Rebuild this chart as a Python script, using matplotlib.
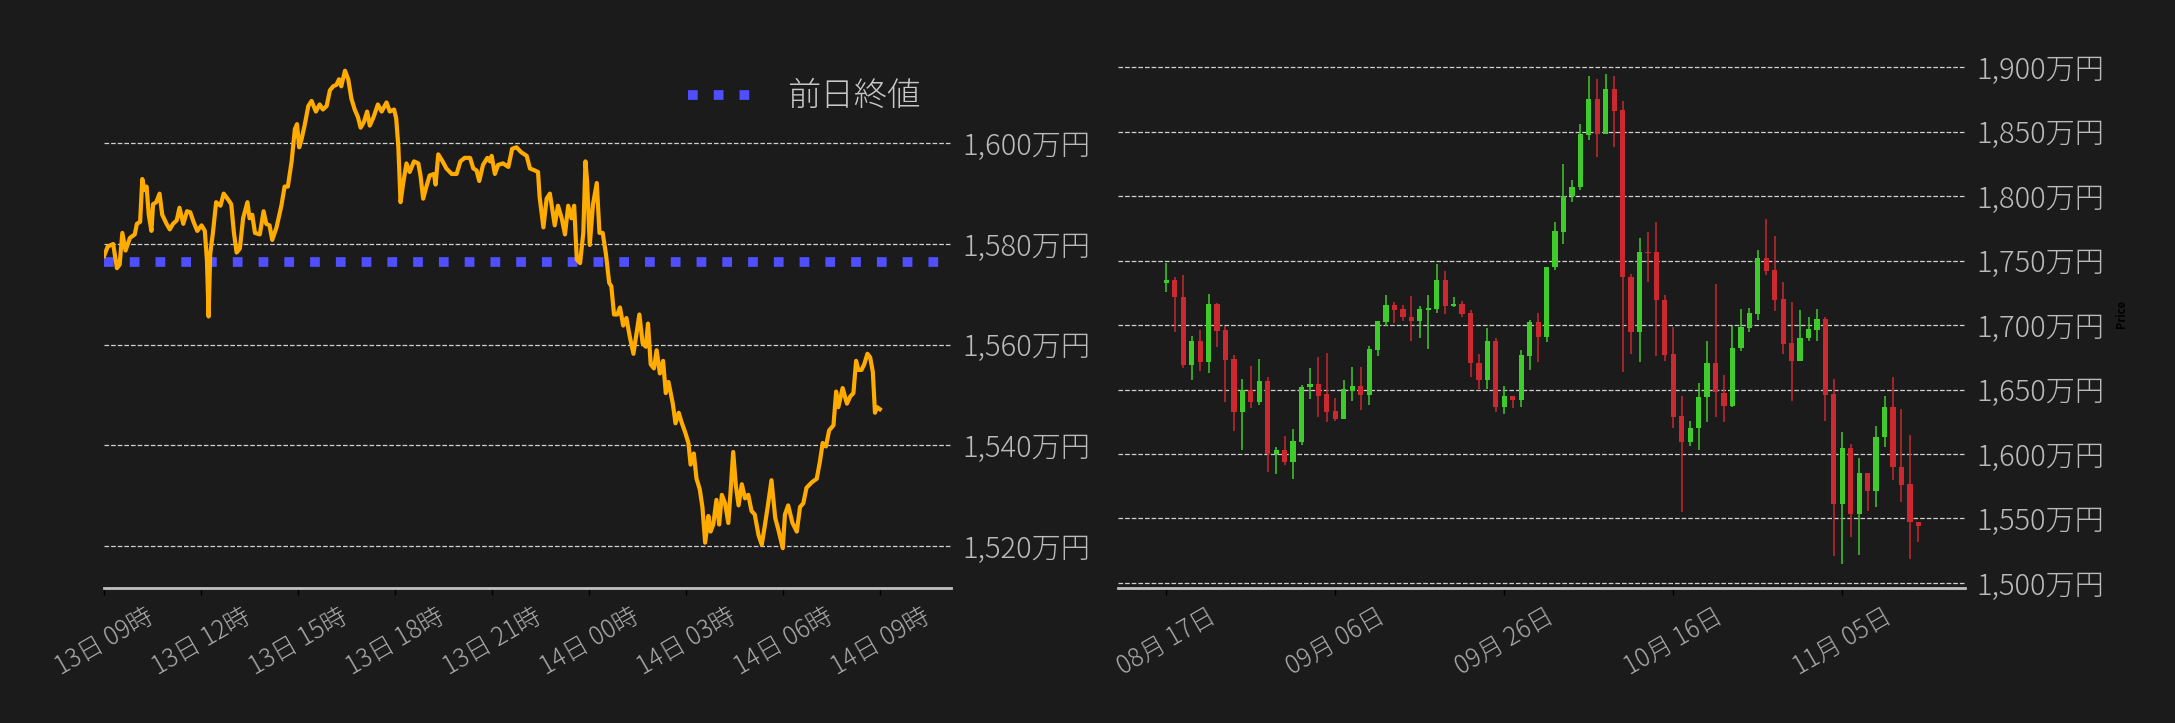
import matplotlib
matplotlib.use("Agg")
import matplotlib.pyplot as plt
import matplotlib.dates as mdates
import matplotlib.ticker as mticker
import pandas as pd

plt.rcParams["font.family"] = ["Noto Sans CJK JP", "DejaVu Sans"]
plt.rcParams["font.weight"] = "light"

BG = "#1b1b1b"
LINE = "#ffab00"
PREV = "#4f4fff"
UP = "#3dcc2a"
DOWN = "#cc2830"

# --- intraday (minutes after 13日 09:00), price in 万円
intraday_start = pd.Timestamp("2025-11-13 09:00")
intraday_minutes = [
    0, 7, 17, 24, 29, 34, 40, 48, 57, 61, 67, 71, 75, 79, 83, 88, 91, 97, 103, 108,
    116, 122, 128, 135, 140, 147, 154, 160, 166, 173, 181, 187, 191, 194, 197, 202, 208, 216, 222, 229,
    236, 241, 246, 252, 258, 266, 270, 275, 280, 289, 296, 301, 307, 312, 320, 329, 335, 341, 348, 354,
    358, 362, 366, 372, 379, 385, 393, 400, 406, 413, 419, 425, 431, 436, 440, 447, 453, 459, 465, 471,
    476, 482, 488, 493, 500, 508, 515, 524, 530, 538, 542, 546, 550, 555, 561, 567, 575, 583, 587, 592,
    598, 604, 612, 615, 620, 628, 635, 645, 654, 661, 669, 679, 685, 691, 696, 703, 711, 716, 719, 725,
    731, 740, 750, 757, 765, 774, 784, 790, 799, 805, 808, 815, 821, 827, 832, 836, 842, 849, 855, 861,
    867, 872, 877, 883, 889, 893, 896, 901, 907, 914, 919, 925, 931, 937, 941, 946, 952, 957, 963, 969,
    975, 982, 988, 993, 999, 1005, 1009, 1014, 1020, 1025, 1031, 1037, 1042, 1047, 1055, 1060, 1066, 1071, 1078, 1084,
    1088, 1094, 1099, 1105, 1110, 1115, 1121, 1125, 1130, 1136, 1141, 1146, 1152, 1158, 1162, 1167, 1172, 1177, 1183, 1189,
    1195, 1201, 1207, 1214, 1220, 1226, 1231, 1238, 1245, 1251, 1259, 1263, 1269, 1277, 1285, 1291, 1297, 1303, 1313, 1322,
    1328, 1333, 1339, 1345, 1353, 1358, 1362, 1370, 1378, 1384, 1390, 1395, 1399, 1405, 1410, 1416, 1421, 1426, 1430, 1434,
    1439,
]
intraday_price = [
    1577.6, 1579.5, 1580.0, 1575.2, 1575.9, 1582.2, 1578.7, 1581.2, 1581.9, 1584.0,
    1584.4, 1592.9, 1590.7, 1591.4, 1585.8, 1582.6, 1587.9, 1588.3, 1590.0, 1585.8,
    1584.0, 1582.9, 1584.0, 1584.7, 1587.2, 1584.0, 1586.5, 1586.3, 1584.4, 1582.6,
    1583.7, 1582.6, 1576.6, 1565.6, 1578.0, 1582.2, 1588.3, 1587.6, 1590.0, 1589.0,
    1587.9, 1582.2, 1578.3, 1579.1, 1585.1, 1588.3, 1585.1, 1585.8, 1582.2, 1581.9,
    1586.5, 1584.0, 1583.7, 1580.8, 1583.3, 1587.6, 1591.4, 1591.4, 1596.4, 1602.8,
    1603.8, 1599.2, 1600.6, 1603.5, 1607.4, 1608.4, 1606.3, 1607.7, 1606.7, 1607.4,
    1610.5, 1611.3, 1611.6, 1612.7, 1611.3, 1614.4, 1612.7, 1608.8, 1606.7, 1605.2,
    1603.1, 1604.2, 1606.3, 1603.5, 1605.2, 1607.7, 1606.3, 1608.1, 1606.3, 1606.7,
    1604.9, 1599.2, 1588.3, 1592.1, 1596.0, 1594.3, 1596.4, 1596.0, 1593.6, 1589.0,
    1591.4, 1593.6, 1593.9, 1591.8, 1597.8, 1596.4, 1595.0, 1593.9, 1593.9, 1596.4,
    1597.1, 1597.1, 1595.0, 1594.6, 1592.5, 1595.7, 1597.1, 1596.4, 1597.5, 1593.9,
    1595.7, 1596.0, 1595.3, 1598.9, 1599.2, 1598.2, 1597.5, 1595.0, 1594.6, 1594.3,
    1589.3, 1583.3, 1589.0, 1590.0, 1586.5, 1583.7, 1587.6, 1585.1, 1581.9, 1587.6,
    1585.1, 1587.6, 1576.9, 1576.2, 1582.2, 1596.4, 1592.5, 1579.8, 1587.9, 1592.1,
    1582.2, 1582.2, 1578.0, 1572.3, 1571.6, 1566.0, 1566.0, 1567.4, 1563.8, 1565.3,
    1561.7, 1558.2, 1562.4, 1566.0, 1560.3, 1559.6, 1564.2, 1556.1, 1555.3, 1558.9,
    1554.3, 1556.8, 1550.4, 1552.6, 1548.3, 1544.4, 1546.5, 1544.7, 1542.6, 1540.5,
    1536.2, 1538.4, 1533.4, 1531.3, 1527.7, 1520.7, 1526.0, 1522.9, 1524.3, 1529.2,
    1524.3, 1530.2, 1528.5, 1524.6, 1530.6, 1538.7, 1532.0, 1528.1, 1532.3, 1529.5,
    1530.2, 1527.0, 1526.3, 1522.2, 1520.3, 1524.3, 1527.8, 1533.1, 1525.6, 1523.2,
    1519.6, 1526.3, 1528.1, 1524.6, 1522.9, 1527.8, 1528.5, 1531.6, 1532.7, 1533.4,
    1536.9, 1540.5, 1539.8, 1543.0, 1544.0, 1550.7, 1547.6, 1551.4, 1548.3, 1549.7,
    1550.4, 1556.8, 1555.0, 1555.0, 1556.1, 1558.2, 1557.5, 1554.6, 1546.5, 1547.6,
    1547.2,
]
prev_close = 1576.5
intraday_yticks = [1520, 1540, 1560, 1580, 1600]

# --- daily candles (万円)
daily_start = "2025-08-17"
daily_open = [
    1732.2, 1735.0, 1721.7, 1669.3, 1687.6, 1671.0, 1716.4, 1696.2, 1673.8, 1632.8,
    1649.7, 1640.0, 1656.6, 1600.0, 1603.2, 1594.0, 1609.5, 1651.9, 1654.4, 1646.6,
    1633.3, 1627.5, 1649.1, 1652.7, 1646.1, 1681.0, 1702.3, 1715.6, 1712.5, 1706.2,
    1703.4, 1712.0, 1712.8, 1735.0, 1714.8, 1716.1, 1709.5, 1670.7, 1657.7, 1687.6,
    1636.7, 1645.0, 1642.2, 1676.3, 1702.3, 1690.9, 1744.9, 1772.4, 1800.0, 1806.7,
    1847.7, 1875.4, 1848.5, 1883.1, 1866.8, 1737.2, 1694.3, 1756.6, 1756.6, 1719.5,
    1677.6, 1629.5, 1609.0, 1619.8, 1644.1, 1670.7, 1647.5, 1637.5, 1682.4, 1697.9,
    1708.7, 1752.1, 1742.7, 1720.3, 1686.2, 1672.4, 1689.6, 1696.5, 1704.8, 1646.6,
    1561.4, 1604.8, 1553.6, 1585.4, 1571.6, 1613.1, 1636.4, 1589.9, 1576.9, 1547.2,
]
daily_high = [
    1748.3, 1737.2, 1738.9, 1691.8, 1696.2, 1724.4, 1717.0, 1699.5, 1676.5, 1658.0,
    1668.2, 1673.8, 1659.7, 1605.1, 1613.9, 1619.2, 1653.6, 1666.3, 1675.2, 1678.5,
    1643.3, 1657.2, 1667.1, 1667.1, 1683.5, 1703.1, 1723.3, 1717.5, 1715.6, 1722.5,
    1714.5, 1723.1, 1747.2, 1741.9, 1721.4, 1718.6, 1711.4, 1677.6, 1697.9, 1690.1,
    1653.0, 1645.0, 1680.4, 1704.0, 1709.5, 1744.9, 1779.5, 1825.0, 1812.2, 1855.7,
    1893.4, 1890.9, 1894.7, 1893.1, 1873.4, 1739.4, 1767.1, 1772.1, 1779.8, 1723.1,
    1698.1, 1645.0, 1625.3, 1654.7, 1687.6, 1731.9, 1661.6, 1699.5, 1712.5, 1713.1,
    1758.2, 1782.3, 1769.0, 1733.3, 1717.5, 1711.4, 1705.9, 1712.5, 1706.2, 1658.3,
    1616.7, 1607.9, 1597.1, 1585.4, 1622.0, 1645.0, 1659.7, 1635.0, 1614.8, 1547.2,
]
daily_low = [
    1725.6, 1694.3, 1666.3, 1657.2, 1664.6, 1662.7, 1682.6, 1640.0, 1618.1, 1603.2,
    1635.3, 1637.8, 1585.7, 1584.3, 1591.8, 1580.7, 1606.8, 1642.8, 1628.9, 1625.0,
    1625.6, 1627.5, 1641.4, 1634.4, 1637.8, 1675.7, 1699.5, 1701.2, 1702.8, 1687.9,
    1690.1, 1681.5, 1709.2, 1708.9, 1713.6, 1706.4, 1659.4, 1650.2, 1650.2, 1632.2,
    1631.1, 1635.3, 1636.7, 1664.9, 1671.0, 1686.8, 1742.4, 1762.9, 1795.3, 1805.0,
    1843.2, 1830.5, 1848.5, 1838.0, 1663.2, 1677.9, 1671.3, 1733.0, 1675.7, 1671.8,
    1620.0, 1554.7, 1606.2, 1603.2, 1625.0, 1628.4, 1624.5, 1636.4, 1679.6, 1694.5,
    1703.7, 1739.1, 1711.2, 1677.9, 1641.1, 1672.4, 1687.3, 1687.9, 1625.9, 1521.2,
    1514.6, 1535.9, 1521.5, 1556.1, 1558.9, 1605.4, 1580.2, 1562.5, 1518.2, 1531.5,
]
daily_close = [
    1735.0, 1721.4, 1669.3, 1687.6, 1671.0, 1716.4, 1695.6, 1673.2, 1632.8, 1649.7,
    1640.0, 1656.6, 1600.0, 1603.2, 1594.0, 1610.1, 1651.9, 1654.4, 1645.3, 1632.8,
    1627.5, 1650.5, 1652.7, 1646.1, 1681.5, 1703.1, 1715.6, 1712.0, 1705.9, 1703.4,
    1712.5, 1713.4, 1735.0, 1715.0, 1716.1, 1708.9, 1670.2, 1657.7, 1687.6, 1636.7,
    1645.0, 1642.2, 1676.8, 1702.3, 1690.9, 1744.9, 1772.9, 1800.0, 1807.0, 1848.2,
    1875.4, 1848.5, 1883.1, 1866.2, 1736.9, 1694.3, 1756.6, 1756.0, 1719.7, 1677.1,
    1628.4, 1609.0, 1620.3, 1644.1, 1670.7, 1647.7, 1637.5, 1682.4, 1698.4, 1709.5,
    1752.1, 1741.9, 1719.7, 1685.4, 1672.4, 1690.1, 1697.0, 1704.8, 1646.1, 1561.4,
    1604.8, 1553.6, 1585.4, 1571.6, 1613.1, 1636.4, 1589.6, 1576.3, 1546.9, 1544.5,
]
daily_xticks = ["2025-08-17", "2025-09-06", "2025-09-26", "2025-10-16", "2025-11-05"]
daily_yticks = [1500, 1550, 1600, 1650, 1700, 1750, 1800, 1850, 1900]


def style_axes(ax):
    ax.set_facecolor(BG)
    for side in ("top", "left", "right"):
        ax.spines[side].set_visible(False)
    ax.spines["bottom"].set_color("#c0c0c0")
    ax.spines["bottom"].set_linewidth(2.0)
    ax.yaxis.tick_right()
    ax.tick_params(axis="y", length=0, pad=8, labelsize=21, labelcolor="#bbbbbb")
    ax.tick_params(axis="x", length=5, width=1, color="black", pad=6,
                   labelsize=18, labelcolor="#aaaaaa", labelrotation=30)
    ax.grid(axis="y", color="#d0d0d0", linestyle="--", linewidth=0.9)
    ax.set_axisbelow(True)
    ax.yaxis.set_major_formatter(mticker.FuncFormatter(lambda v, _: f"{v:,.0f}万円"))


W, H = 2175, 723
fig = plt.figure(figsize=(W / 100, H / 100), dpi=100, facecolor=BG)

# left: intraday
ax1 = fig.add_axes([104 / W, 135 / H, 847 / W, 548 / H])
style_axes(ax1)
times = intraday_start + pd.to_timedelta(intraday_minutes, unit="min")
ax1.plot(times, intraday_price, color=LINE, lw=3.0, solid_joinstyle="round", zorder=3)
ax1.axhline(prev_close, color=PREV, lw=7, linestyle=":", label="前日終値", zorder=2)
ax1.set_yticks(intraday_yticks)
ax1.set_ylim(1511.7, 1620.5)
ax1.set_xlim(intraday_start, intraday_start + pd.Timedelta(minutes=1571))
ax1.xaxis.set_major_locator(mdates.HourLocator(byhour=range(0, 24, 3)))
ax1.xaxis.set_major_formatter(mdates.DateFormatter("%d日 %H時"))
ax1.legend(loc="upper right", bbox_to_anchor=(1.0, 0.982), frameon=False, fontsize=24,
           labelcolor="#c8c8c8", handlelength=2.0, handletextpad=1.0)

# right: daily candles
ax2 = fig.add_axes([1118 / W, 135 / H, 847 / W, 548 / H])
style_axes(ax2)
days = pd.date_range(daily_start, periods=len(daily_close), freq="D")
colors = [UP if c >= o else DOWN for o, c in zip(daily_open, daily_close)]
bottoms = [min(o, c) for o, c in zip(daily_open, daily_close)]
heights = [max(abs(c - o), 0.6) for o, c in zip(daily_open, daily_close)]
ax2.vlines(days, daily_low, daily_high, colors=colors, lw=1.1, zorder=2)
ax2.bar(days, heights, bottom=bottoms, width=0.62, color=colors, zorder=3)
ax2.set_yticks(daily_yticks)
ax2.set_ylim(1496.1, 1921.0)
ax2.set_xlim(pd.Timestamp(daily_start) - pd.Timedelta(days=5.72),
             pd.Timestamp(daily_xticks[-1]) + pd.Timedelta(days=14.52))
ax2.set_xticks(pd.to_datetime(daily_xticks))
ax2.xaxis.set_major_formatter(mdates.DateFormatter("%m月 %d日"))
ax2.yaxis.set_label_position("right")
ax2.set_ylabel("Price", fontsize=8, color="black", fontweight="bold", labelpad=8)

fig.savefig("out.png", dpi=100, facecolor=BG)
